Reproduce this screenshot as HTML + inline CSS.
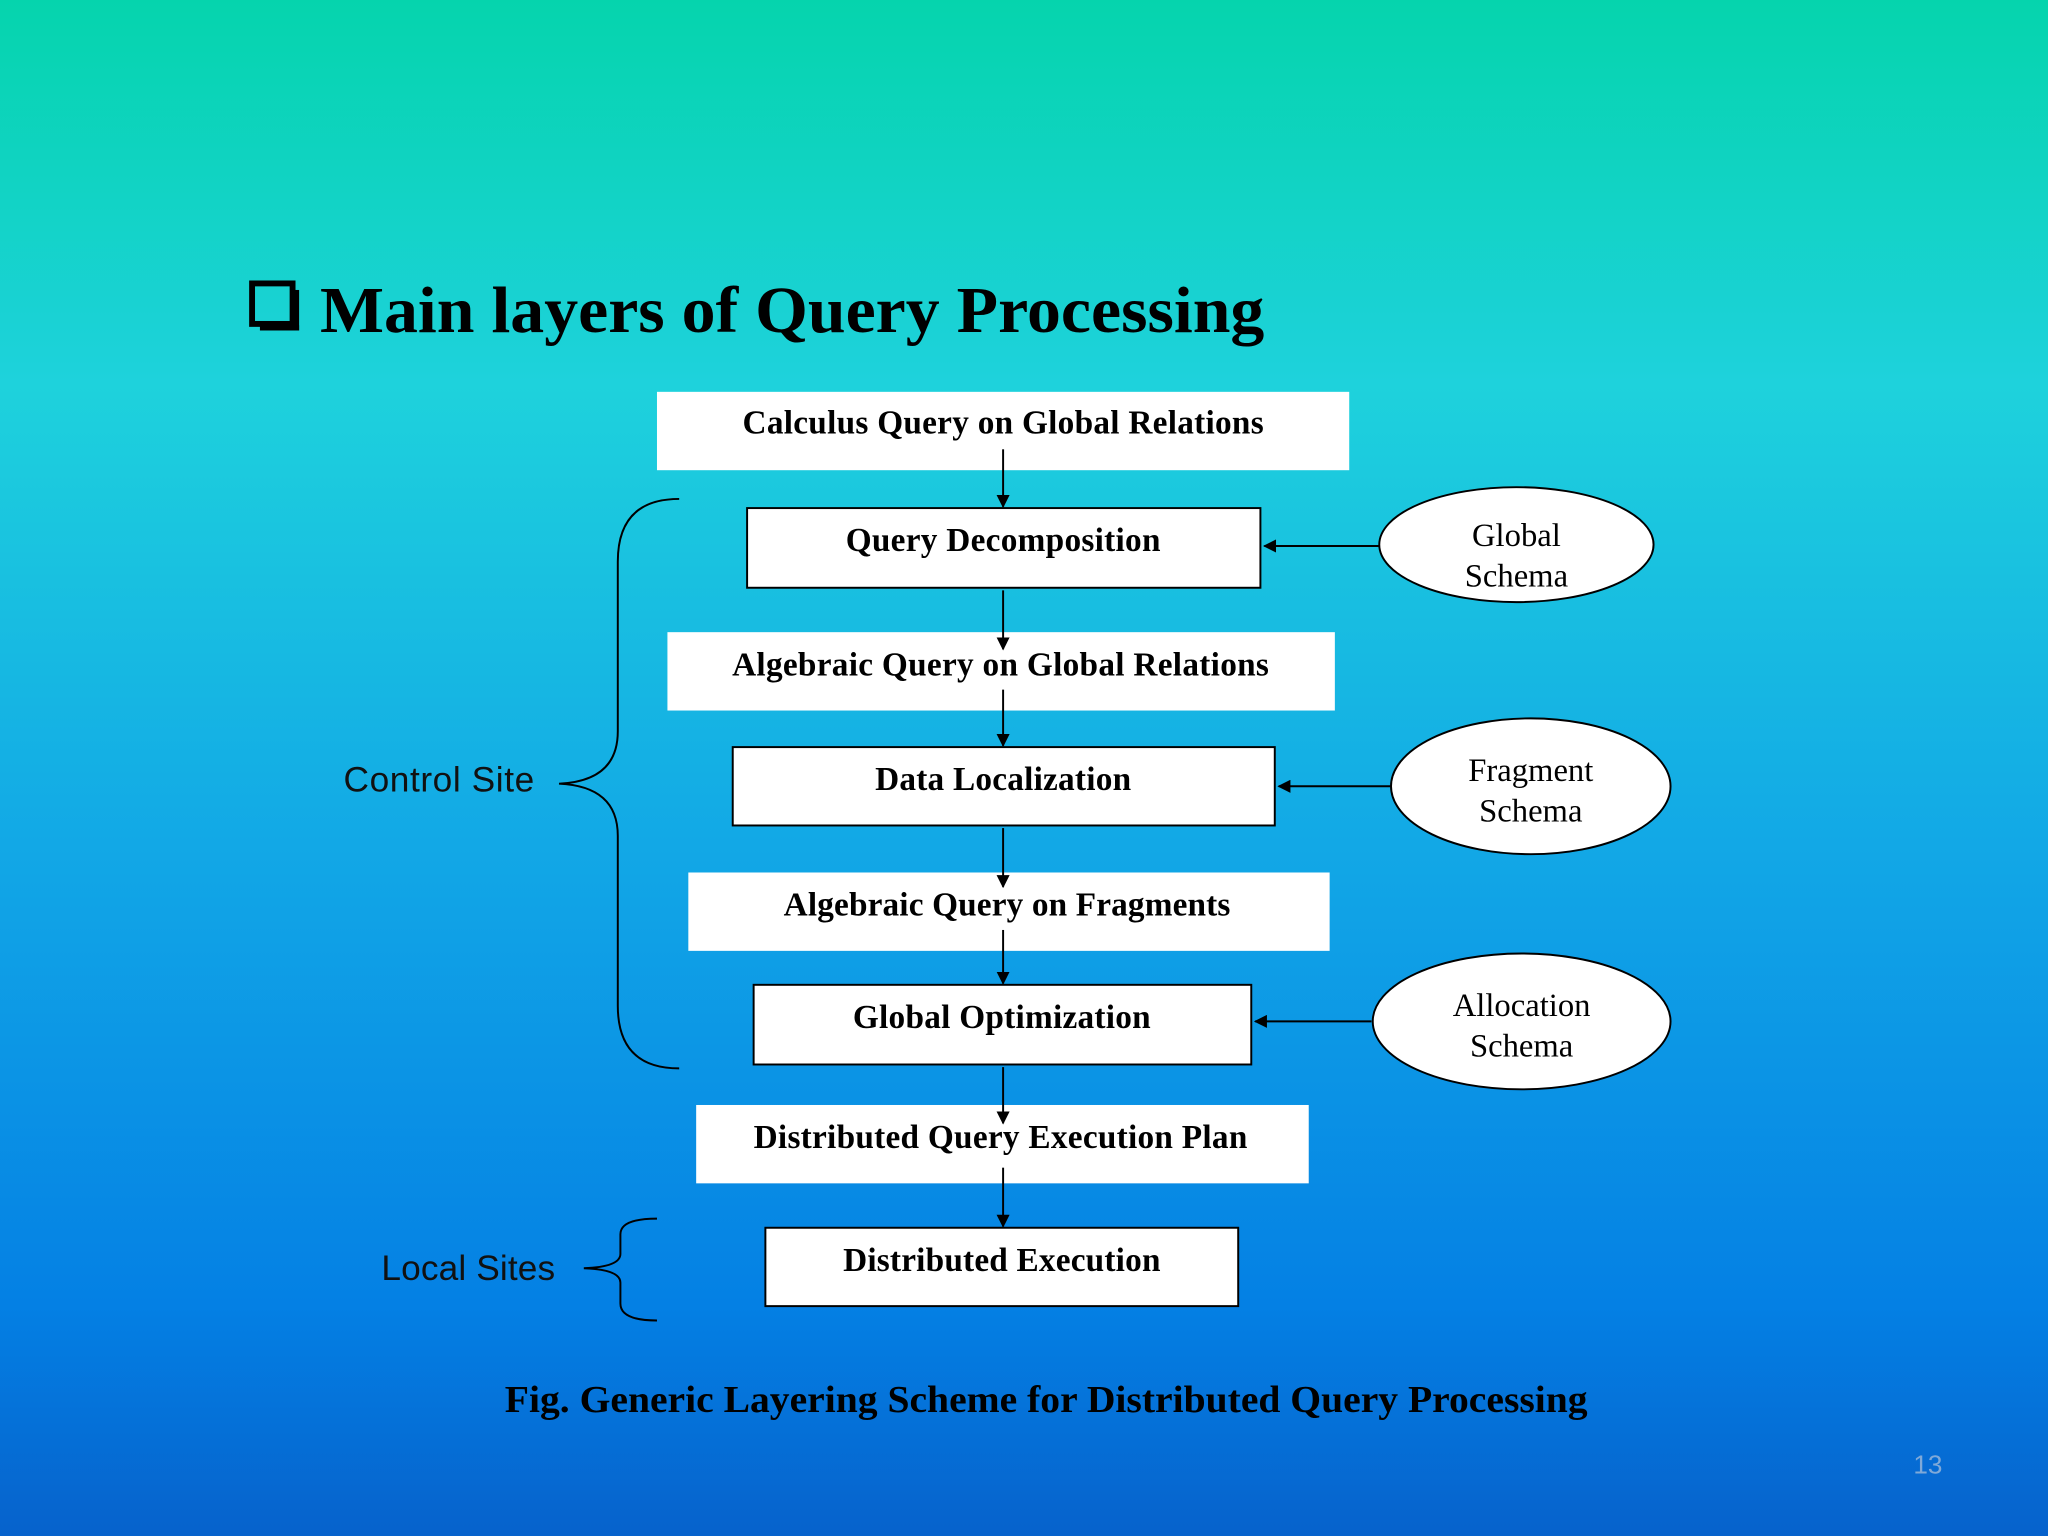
<!DOCTYPE html>
<html><head><meta charset="utf-8"><style>
html,body{margin:0;padding:0;width:2048px;height:1536px;overflow:hidden}
svg{display:block}
</style></head><body>
<svg width="2048" height="1536" viewBox="0 0 1568 1176" xmlns="http://www.w3.org/2000/svg">
<defs>
<linearGradient id="bg" x1="0" y1="0" x2="0" y2="1">
<stop offset="0" stop-color="#05d4ad"/>
<stop offset="0.25" stop-color="#1ed2dc"/>
<stop offset="0.55" stop-color="#12a8e6"/>
<stop offset="0.85" stop-color="#0480e4"/>
<stop offset="1" stop-color="#0662cc"/>
</linearGradient>
<marker id="ah" markerWidth="10" markerHeight="10" refX="9" refY="5" orient="auto" markerUnits="userSpaceOnUse">
<path d="M0,0 L10,5 L0,10 z" fill="#000"/>
</marker>
</defs>
<rect width="1568" height="1176" fill="url(#bg)"/>
<rect x="193" y="217" width="31" height="31" fill="none" stroke="#000" stroke-width="4.5"/>
<line x1="199" y1="251" x2="229" y2="251" stroke="#000" stroke-width="4"/>
<line x1="227" y1="222" x2="227" y2="253" stroke="#000" stroke-width="4"/>
<text x="245" y="254" font-family="Liberation Serif, serif" font-weight="bold" font-size="50" textLength="723" lengthAdjust="spacingAndGlyphs">Main layers of Query Processing</text>

<g font-family="Liberation Serif, serif" font-weight="bold" font-size="25.5" text-anchor="middle">
<rect x="503" y="300" width="530" height="60" fill="#fff"/>
<text x="768" y="332" textLength="399">Calculus Query on Global Relations</text>
<rect x="572" y="389" width="393" height="61" fill="#fff" stroke="#000" stroke-width="1.5"/>
<text x="768" y="422" textLength="241">Query Decomposition</text>
<rect x="511" y="484" width="511" height="60" fill="#fff"/>
<text x="766" y="517" textLength="411">Algebraic Query on Global Relations</text>
<rect x="561" y="572" width="415" height="60" fill="#fff" stroke="#000" stroke-width="1.5"/>
<text x="768" y="605" textLength="196">Data Localization</text>
<rect x="527" y="668" width="491" height="60" fill="#fff"/>
<text x="771" y="701" textLength="342">Algebraic Query on Fragments</text>
<rect x="577" y="754" width="381" height="61" fill="#fff" stroke="#000" stroke-width="1.5"/>
<text x="767" y="787" textLength="228">Global Optimization</text>
<rect x="533" y="846" width="469" height="60" fill="#fff"/>
<text x="766" y="879" textLength="378">Distributed Query Execution Plan</text>
<rect x="586" y="940" width="362" height="60" fill="#fff" stroke="#000" stroke-width="1.5"/>
<text x="767" y="973" textLength="243">Distributed Execution</text>
</g>

<g stroke="#000" stroke-width="1.5" marker-end="url(#ah)">
<line x1="768" y1="344" x2="768" y2="388"/>
<line x1="768" y1="452" x2="768" y2="497"/>
<line x1="768" y1="528" x2="768" y2="571"/>
<line x1="768" y1="634" x2="768" y2="679"/>
<line x1="768" y1="712" x2="768" y2="753"/>
<line x1="768" y1="817" x2="768" y2="860"/>
<line x1="768" y1="894" x2="768" y2="939"/>
<line x1="1056" y1="418" x2="968" y2="418"/>
<line x1="1065" y1="602" x2="979" y2="602"/>
<line x1="1050" y1="782" x2="961" y2="782"/>
</g>

<g fill="#fff" stroke="#000" stroke-width="1.5">
<ellipse cx="1161" cy="417" rx="105" ry="44"/>
<ellipse cx="1172" cy="602" rx="107" ry="52"/>
<ellipse cx="1165" cy="782" rx="114" ry="52"/>
</g>
<g font-family="Liberation Serif, serif" font-size="25" text-anchor="middle">
<text x="1161" y="418">Global</text><text x="1161" y="449">Schema</text>
<text x="1172" y="598">Fragment</text><text x="1172" y="629">Schema</text>
<text x="1165" y="778">Allocation</text><text x="1165" y="809">Schema</text>
</g>

<g fill="none" stroke="#000" stroke-width="1.5">
<path d="M520,382 Q473,382 473,430 L473,560 Q473,598 428,600 Q473,602 473,640 L473,770 Q473,818 520,818"/>
<path d="M503,933 Q475,933 475,945 L475,960 Q475,970 447,971 Q475,972 475,982 L475,998 Q475,1011 503,1011"/>
</g>
<g font-family="Liberation Sans, sans-serif" font-size="27" fill="#111">
<text x="263" y="606" textLength="146">Control Site</text>
<text x="292" y="980" textLength="133">Local Sites</text>
</g>
<text x="801" y="1081" text-anchor="middle" font-family="Liberation Serif, serif" font-weight="bold" font-size="29" textLength="829" lengthAdjust="spacingAndGlyphs">Fig. Generic Layering Scheme for Distributed Query Processing</text>
<text x="1476" y="1128" text-anchor="middle" font-family="Liberation Sans, sans-serif" font-size="20" fill="#7fa9d8">13</text>
</svg>
</body></html>
